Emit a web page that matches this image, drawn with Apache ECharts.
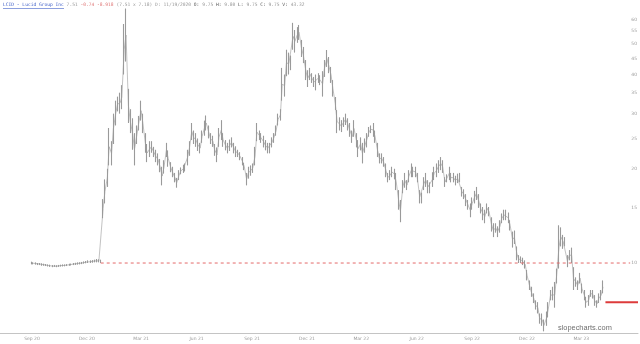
<!DOCTYPE html>
<html>
<head>
<meta charset="utf-8">
<script src="https://cdn.jsdelivr.net/npm/echarts@6/dist/echarts.min.js"></script>
<style>html,body{margin:0;padding:0;background:#fff}#c{width:640px;height:344px}</style>
</head>
<body>
<div id="c"></div>
<script>
// ---- DATA ----
const dates = [
'2020-08-31','2020-09-03','2020-09-07','2020-09-10','2020-09-14','2020-09-17','2020-09-21','2020-09-24',
'2020-09-28','2020-10-01','2020-10-05','2020-10-08','2020-10-12','2020-10-15','2020-10-19','2020-10-22',
'2020-10-26','2020-10-29','2020-11-02','2020-11-05','2020-11-09','2020-11-12','2020-11-16','2020-11-19',
'2020-11-23','2020-11-26','2020-11-30','2020-12-03','2020-12-07','2020-12-10','2020-12-14','2020-12-17',
'2020-12-21','2020-12-24','2020-12-28','2020-12-31',
'2021-01-04','2021-01-07','2021-01-11','2021-01-14','2021-01-18','2021-01-21','2021-01-25','2021-01-28',
'2021-02-01','2021-02-04','2021-02-08','2021-02-11','2021-02-15','2021-02-18','2021-02-22','2021-02-25',
'2021-03-01','2021-03-04','2021-03-08','2021-03-11','2021-03-15','2021-03-18','2021-03-22','2021-03-25',
'2021-03-29','2021-04-01','2021-04-05','2021-04-08','2021-04-12','2021-04-15','2021-04-19','2021-04-22',
'2021-04-26','2021-04-29','2021-05-03','2021-05-06','2021-05-10','2021-05-13','2021-05-17','2021-05-20',
'2021-05-24','2021-05-27','2021-05-31','2021-06-03','2021-06-07','2021-06-10','2021-06-14','2021-06-17',
'2021-06-21','2021-06-24','2021-06-28','2021-07-01','2021-07-05','2021-07-08','2021-07-12','2021-07-15',
'2021-07-19','2021-07-22','2021-07-26','2021-07-29','2021-08-02','2021-08-05','2021-08-09','2021-08-12',
'2021-08-16','2021-08-19','2021-08-23','2021-08-26','2021-08-30','2021-09-02','2021-09-06','2021-09-09',
'2021-09-13','2021-09-16','2021-09-20','2021-09-23','2021-09-27','2021-09-30','2021-10-04','2021-10-07',
'2021-10-11','2021-10-14','2021-10-18','2021-10-21','2021-10-25','2021-10-28','2021-11-01','2021-11-04',
'2021-11-08','2021-11-11','2021-11-15','2021-11-18','2021-11-22','2021-11-25','2021-11-29','2021-12-02',
'2021-12-06','2021-12-09','2021-12-13','2021-12-16','2021-12-20','2021-12-23','2021-12-27','2021-12-30',
'2022-01-03','2022-01-06','2022-01-10','2022-01-13','2022-01-17','2022-01-20','2022-01-24','2022-01-27',
'2022-01-31','2022-02-03','2022-02-07','2022-02-10','2022-02-14','2022-02-17','2022-02-21','2022-02-24',
'2022-02-28','2022-03-03','2022-03-07','2022-03-10','2022-03-14','2022-03-17','2022-03-21','2022-03-24',
'2022-03-28','2022-03-31','2022-04-04','2022-04-07','2022-04-11','2022-04-14','2022-04-18','2022-04-21',
'2022-04-25','2022-04-28','2022-05-02','2022-05-05','2022-05-09','2022-05-12','2022-05-16','2022-05-19',
'2022-05-23','2022-05-26','2022-05-30','2022-06-02','2022-06-06','2022-06-09','2022-06-13','2022-06-16',
'2022-06-20','2022-06-23','2022-06-27','2022-06-30','2022-07-04','2022-07-07','2022-07-11','2022-07-14',
'2022-07-18','2022-07-21','2022-07-25','2022-07-28','2022-08-01','2022-08-04','2022-08-08','2022-08-11',
'2022-08-15','2022-08-18','2022-08-22','2022-08-25','2022-08-29','2022-09-01','2022-09-05','2022-09-08',
'2022-09-12','2022-09-15','2022-09-19','2022-09-22','2022-09-26','2022-09-29','2022-10-03','2022-10-06',
'2022-10-10','2022-10-13','2022-10-17','2022-10-20','2022-10-24','2022-10-27','2022-10-31','2022-11-03',
'2022-11-07','2022-11-10','2022-11-14','2022-11-17','2022-11-21','2022-11-24','2022-11-28','2022-12-01',
'2022-12-05','2022-12-08','2022-12-12','2022-12-15','2022-12-19','2022-12-22','2022-12-26','2022-12-29',
'2023-01-02','2023-01-05','2023-01-09','2023-01-12','2023-01-16','2023-01-19','2023-01-23','2023-01-26',
'2023-01-30','2023-02-02','2023-02-06','2023-02-09','2023-02-13','2023-02-16','2023-02-20','2023-02-23',
'2023-02-27','2023-03-02','2023-03-06','2023-03-09','2023-03-13','2023-03-16','2023-03-20','2023-03-23',
'2023-03-27','2023-03-30','2023-04-03','2023-04-06'
];
const lows = [
9.9,9.9, 9.88,9.85, 9.85,9.8, 9.8,9.78, 9.75,9.72, 9.7,9.72, 9.7,9.72, 9.74,9.75,
9.76,9.78, 9.8,9.82, 9.85,9.86, 9.88,9.9, 9.92,9.95, 9.98,10.0, 10.0,10.02, 10.05,10.05,
10.05,10.0, 13.9,15.5,
17.5,20.5, 20.5,24.0, 27.5,30.5, 30.0,31.0, 40.0,44.0, 28.0,26.0, 23.0,20.5, 24.0,26.5,
28.5,26.0, 22.5,21.0, 21.8,22.5, 21.8,21.0, 20.5,19.5, 17.7,19.3, 21.8,20.3, 19.5,18.8,
18.1,17.4, 18.4,19.2, 19.4,19.6, 20.5,22.0, 24.7,24.0, 23.5,22.8, 22.4,24.2, 25.5,26.5,
25.0,24.0, 23.5,22.0, 21.0,23.5, 24.7,23.5, 22.9,22.4, 22.8,23.4, 22.4,21.8, 21.8,21.3,
20.5,19.8, 17.7,18.6, 19.0,19.4, 20.5,24.5, 24.7,24.2, 23.4,22.9, 22.4,22.4, 23.4,24.2,
25.5,27.5, 28.5,33.0, 34.0,39.5, 40.0,41.3, 48.0,47.0, 50.5,51.6, 45.5,43.5, 38.4,36.5,
38.4,37.6, 36.5,35.6, 37.6,37.0, 34.0,39.3,
42.3,40.4, 37.6,34.0, 30.8,26.0, 26.5,26.2, 27.2,27.6, 26.5,25.3, 24.2,25.3, 23.4,21.8,
22.9,20.8, 22.5,23.4, 25.3,26.0, 25.3,24.2, 21.8,20.8, 20.8,20.3, 18.8,18.1, 18.4,18.8,
18.5,17.1, 14.8,13.5, 16.7,17.4, 17.1,18.1, 18.8,18.8, 18.8,18.1, 15.5,15.5, 17.1,17.5,
16.7,16.7, 17.5,18.4, 18.8,19.4, 19.8,19.4, 17.5,18.1, 18.4,18.1, 18.1,17.7, 18.0,18.1,
16.3,16.0, 15.2,14.8, 14.0,14.8, 15.5,15.9, 15.0,14.4, 13.7,13.4, 14.4,14.1, 12.6,12.1,
12.5,12.1, 12.5,13.4, 13.7,13.7, 13.4,12.7, 11.2,11.5, 10.2,10.0, 10.0,9.85, 9.6,8.8,
8.2,7.8, 7.45,7.1, 6.9,6.4, 6.3,6.05,
6.3,6.7, 7.6,7.6, 7.2,8.6, 9.6,11.3, 11.1,11.3, 9.7,10.2, 10.0,8.2, 8.4,8.2,
8.6,8.0, 7.6,7.2, 7.3,7.8, 7.7,7.3, 7.2,7.45, 7.6,8.0
];
const highs = [
10.1,10.05, 10.05,10.0, 10.0,9.98, 9.95,9.93, 9.9,9.88, 9.85,9.86, 9.84,9.86, 9.88,9.9,
9.9,9.92, 9.95,9.96, 10.0,10.02, 10.05,10.06, 10.08,10.12, 10.15,10.2, 10.2,10.22, 10.25,10.3,
10.28,10.25, 16.0,18.5,
20.0,27.0, 24.5,30.0, 33.0,34.0, 35.0,37.0, 58.0,65.0, 36.0,31.0, 29.0,26.0, 27.5,29.5,
33.0,30.0, 26.0,24.0, 24.5,24.5, 23.5,23.0, 22.4,21.5, 20.3,21.3, 24.2,22.9, 21.0,20.3,
19.4,18.7, 19.8,20.2, 20.6,20.8, 23.0,24.5, 28.0,26.5, 26.0,25.0, 24.2,26.5, 28.5,29.6,
27.5,26.0, 25.5,24.0, 23.4,27.0, 28.6,26.0, 24.7,24.2, 24.8,25.2, 24.2,23.6, 23.0,22.6,
21.8,20.9, 19.4,20.3, 20.5,20.8, 23.5,28.0, 26.5,26.0, 25.5,24.7, 24.2,24.2, 25.2,26.0,
27.5,30.0, 31.0,42.0, 40.0,48.0, 47.0,46.0, 58.5,55.5, 56.7,57.6, 51.6,49.0, 44.5,41.3,
42.0,40.4, 39.3,40.0, 40.4,39.8, 41.0,44.5,
47.9,45.5, 42.3,38.4, 33.9,30.8, 29.2,28.6, 29.2,30.0, 29.0,28.0, 26.5,28.6, 26.0,24.7,
25.2,24.2, 25.0,26.0, 27.2,27.5, 28.0,26.5, 24.2,22.4, 22.4,21.8, 20.8,19.4, 19.8,20.3,
20.0,19.4, 17.1,15.9, 18.4,19.4, 18.4,19.8, 20.8,20.3, 20.3,19.4, 17.1,16.8, 18.8,19.4,
18.4,18.1, 19.5,20.3, 20.8,21.3, 21.8,21.3, 18.8,19.2, 20.3,19.4, 19.4,19.0, 19.3,19.4,
17.5,17.2, 16.6,15.9, 15.5,16.2, 17.0,17.5, 16.6,15.5, 15.1,14.8, 15.5,15.1, 14.0,13.4,
13.4,13.1, 13.7,14.4, 14.8,14.8, 14.5,13.7, 12.6,12.7, 11.3,10.6, 10.5,10.4, 10.2,9.5,
8.8,8.4, 8.0,7.6, 7.5,6.9, 6.9,6.6,
7.0,7.5, 8.2,8.4, 8.7,9.6, 13.2,13.0, 12.3,12.1, 10.6,11.0, 11.2,9.7, 9.0,8.8,
9.3,8.6, 8.2,7.8, 7.9,8.2, 8.2,7.9, 7.6,8.0, 8.2,8.8
];
const xTickDates  = ['2020-09-01','2020-12-01','2021-03-01','2021-06-01','2021-09-01','2021-12-01',
                     '2022-03-01','2022-06-01','2022-09-01','2022-12-01','2023-03-01'];
const xTickLabels = ['Sep 20','Dec 20','Mar 21','Jun 21','Sep 21','Dec 21',
                     'Mar 22','Jun 22','Sep 22','Dec 22','Mar 23'];
const yTickValues = [10, 15, 20, 25, 30, 35, 40, 45, 50, 55, 60];
const refLevel = 10;          // dashed red reference line
const refStart = '2020-12-24';
const refEnd   = '2023-05-21';
const stopLevel = 7.5;        // solid red line at the right
const stopStart = '2023-04-10';
const stopEnd   = '2023-06-03';
const headerName = 'LCID - Lucid Group Inc';
const headerParts = ['7.51', '-0.74 -8.918', '(7.51 x 7.18)', 'D: 11/19/2020', 'O:', '9.75', 'H:', '9.80', 'L:', '9.75', 'C:', '9.75', 'V:', '43.32'];
const watermark = 'slopecharts.com';

// ---- CHART ----
const P = s => +echarts.time.parse(s);
const chart = echarts.init(document.getElementById('c'), null, {renderer: 'canvas'});
const tickMap = {};
xTickDates.forEach((d, i) => { tickMap[P(d)] = xTickLabels[i]; });

const ohlc = dates.map((d, i) => [P(d), lows[i], highs[i], lows[i], highs[i]]);
const mids = dates.map((d, i) => [P(d), Math.sqrt(lows[i] * highs[i])]);

const hp = headerParts;
const headerText = '{n|' + headerName + '} {g|' + hp[0] + '} {r|' + hp[1] + '} {g|' + hp[2] + '} {g|' + hp[3] + '} ' +
  '{k|' + hp[4] + '} {g|' + hp[5] + '} {k|' + hp[6] + '} {g|' + hp[7] + '} {k|' + hp[8] + '} {g|' + hp[9] + '} ' +
  '{k|' + hp[10] + '} {g|' + hp[11] + '} {k|' + hp[12] + '} {g|' + hp[13] + '}';
const mono = {fontFamily: 'DejaVu Sans Mono', fontSize: 4.6};
const GRAY = '#9a9a9a';

chart.setOption({
  animation: false,
  backgroundColor: '#ffffff',
  grid: {left: 0, right: 0, top: 0, bottom: 11, containLabel: false},
  xAxis: {
    type: 'value',
    scale: true,
    min: P('2020-07-10'),
    max: P('2023-06-03'),
    axisLine: {show: true, onZero: false, lineStyle: {color: '#c4c4c4', width: 1}},
    axisTick: {show: false},
    splitLine: {show: false},
    axisLabel: {
      customValues: xTickDates.map(P),
      formatter: v => tickMap[v] || '',
      fontSize: 4.5, color: '#9a9a9a', margin: 3, fontFamily: 'DejaVu Sans'
    }
  },
  yAxis: {
    type: 'log',
    logBase: 10,
    min: 5.977,
    max: 69.2,
    position: 'right',
    axisLine: {show: false},
    axisTick: {show: false},
    splitLine: {show: false},
    axisLabel: {
      inside: true,
      customValues: yTickValues,
      formatter: v => String(Math.round(v)),
      fontSize: 4.5, color: '#9a9a9a', margin: 1, fontFamily: 'DejaVu Sans'
    }
  },
  series: [{
    type: 'line',
    data: mids,
    symbol: 'none',
    lineStyle: {color: '#a8a8a8', width: 0.7},
    z: 1
  }, {
    type: 'candlestick',
    data: ohlc,
    encode: {x: 0, y: [1, 2, 3, 4]},
    barWidth: 1,
    z: 2,
    itemStyle: {color: GRAY, color0: GRAY, borderColor: GRAY, borderColor0: GRAY, borderWidth: 1.1}
  }, {
    type: 'line',
    data: [[P(refStart), refLevel], [P(refEnd), refLevel]],
    symbol: 'none',
    lineStyle: {color: '#e46a6a', width: 1, type: [3, 3]},
    z: 3
  }, {
    type: 'line',
    data: [[P(stopStart), stopLevel], [P(stopEnd), stopLevel]],
    symbol: 'none',
    lineStyle: {color: '#dd3b3b', width: 2},
    z: 3
  }],
  graphic: [
    {type: 'text', left: 3, top: 2, silent: true,
     style: {text: headerText, rich: {
       n: Object.assign({fill: '#4060c8'}, mono),
       g: Object.assign({fill: '#999999'}, mono),
       r: Object.assign({fill: '#e07a7a'}, mono),
       k: Object.assign({fill: '#555555'}, mono)
     }, font: '4.6px DejaVu Sans Mono'}},
    {type: 'line', silent: true, shape: {x1: 3, y1: 8.5, x2: 64, y2: 8.5}, style: {stroke: '#4060c8', lineWidth: 0.6}},
    {type: 'text', left: 558, top: 324, silent: true,
     style: {text: watermark, fill: '#6e6e6e', font: '7.4px "Liberation Sans", Arial, sans-serif'}}
  ]
});
</script>
</body>
</html>
